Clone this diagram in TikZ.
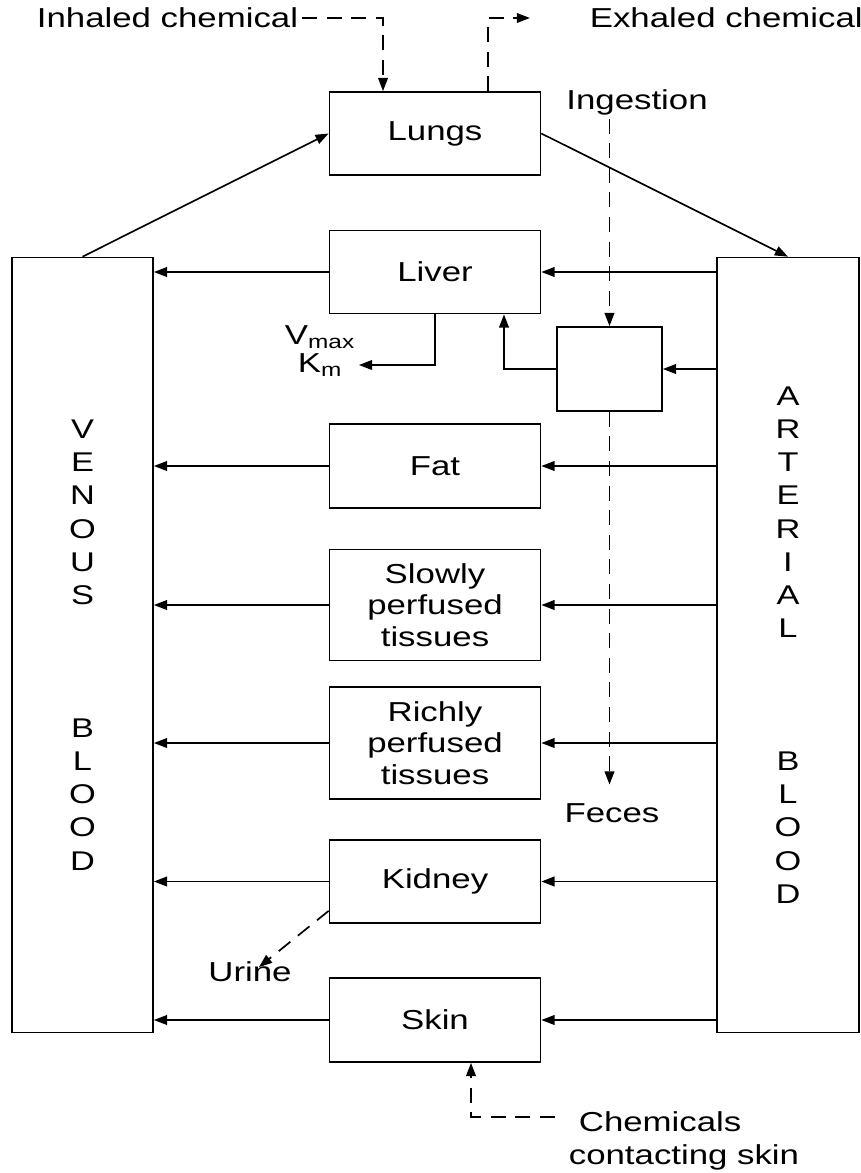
\documentclass[tikz,border=0pt]{standalone}
\usepackage{fontspec}
\setmainfont{Liberation Sans}[FakeStretch=1.27]
\usetikzlibrary{positioning, arrows.meta, calc}

\tikzset{
  organ/.style={draw, line width=1pt, minimum width=4.22cm, minimum height=1.66cm,
    align=center, font=\fontsize{15.6}{18.1}\selectfont},
  blood/.style={draw, line width=1pt, minimum width=2.82cm, minimum height=15.5cm,
    align=center, font=\fontsize{15.4}{18.9}\selectfont},
  tag/.style={inner sep=2pt, align=left, font=\fontsize{15.6}{18.6}\selectfont},
  flow/.style={-{Triangle[length=7.5pt,width=5.5pt]}, line width=0.95pt},
  route/.style={flow, dash pattern=on 8.5pt off 5.5pt},
}

\begin{document}
\begin{tikzpicture}[x=0.02cm, y=-0.02cm]
  \useasboundingbox (0,0) rectangle (861,1173);

  % Blood pools
  \node[blood] (venous) at (82.5,645)
    {V\\E\\N\\O\\U\\S\\\mbox{}\\\mbox{}\\\mbox{}\\B\\L\\O\\O\\D};
  \node[blood, minimum width=2.84cm] (arterial) at (788,645)
    {A\\R\\T\\E\\R\\I\\A\\L\\\mbox{}\\\mbox{}\\\mbox{}\\B\\L\\O\\O\\D};

  % Compartments
  \node[organ] (lungs) at (435,133.5) {Lungs};
  \node[organ] (liver) at (435,272) {Liver};
  \node[organ, minimum width=2.1cm, minimum height=1.68cm] (gut) at (609.5,369) {};
  \node[organ, minimum height=1.68cm] (fat) at (435,466) {Fat};
  \node[organ, minimum height=2.22cm] (slowly) at (435,605) {Slowly\\perfused\\tissues};
  \node[organ, minimum height=2.24cm] (richly) at (435,743) {Richly\\perfused\\tissues};
  \node[organ] (kidney) at (435,881.5) {Kidney};
  \node[organ, minimum height=1.68cm] (skin) at (435,1020) {Skin};

  % Labels
  \node[tag, anchor=east] (inhaled) at (302,18) {Inhaled chemical};
  \node[tag, anchor=west] (exhaled) at (586,18) {Exhaled chemical};
  \node[tag] (ingestion) at (637,102) {Ingestion};
  \node[tag] (feces) at (612,813) {Feces};
  \node[tag] (urine) at (250,972) {Urine};
  \node[tag, align=center, font=\fontsize{15.6}{15.9}\selectfont] (km) at (320,351)
    {V\textsubscript{max}\\K\textsubscript{m}};
  \node[tag, anchor=west] (chem) at (565,1141)
    {\hspace*{0.2cm}Chemicals\\contacting skin};
  \coordinate (outlet) at (530,18);

  % Blood flow
  \draw[flow] (venous.north) -- (lungs.west);
  \draw[flow] (lungs.east) -- (arterial.north);
  \foreach \o in {liver,fat,slowly,richly,kidney,skin} {
    \draw[flow] (\o.east -| arterial.west) -- (\o.east);
    \draw[flow] (\o.west) -- (\o.west -| venous.east);
  }
  \draw[flow] (gut.east -| arterial.west) -- (gut.east);
  \draw[flow] (gut.west) -| ([xshift=1.38cm]liver.south);
  \draw[flow] (liver.south) |- ([yshift=-0.28cm]km.east);

  % Exposure and elimination
  \draw[route] (inhaled.east) -| ([xshift=-1.04cm]lungs.north);
  \draw[route] ([xshift=1.06cm]lungs.north) |- (outlet);
  \draw[route] (ingestion.south -| gut.north) -- (gut.north);
  \draw[route, shorten >=0.3cm] (gut.south) -- (gut.south |- feces.north);
  \draw[route] ([yshift=0.26cm]kidney.south west) -- ([xshift=0.18cm,yshift=-0.18cm]urine.north);
  \draw[route] ([xshift=-0.2cm,yshift=0.48cm]chem.west) -| ([xshift=0.72cm]skin.south);
\end{tikzpicture}
\end{document}
